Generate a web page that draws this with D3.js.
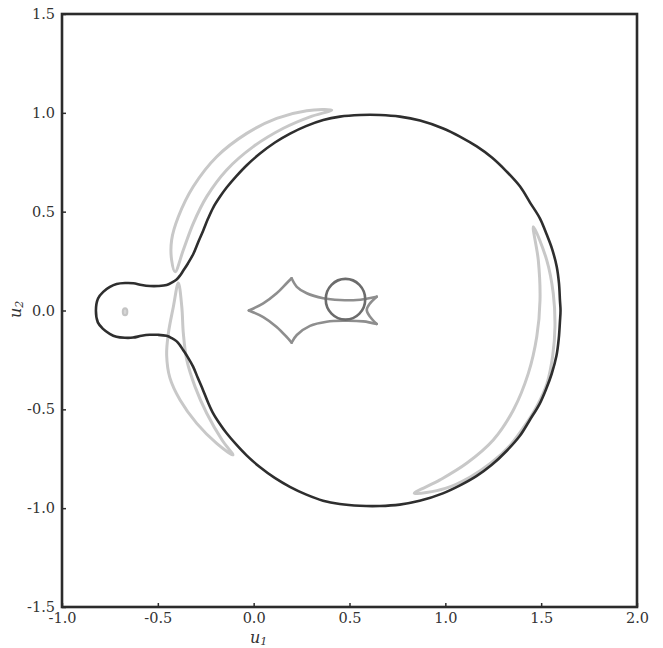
<!DOCTYPE html>
<html>
<head>
<meta charset="utf-8">
<script src="https://cdn.jsdelivr.net/npm/d3@7"></script>
<style>
  body { margin: 0; background: #fff; }
  svg text { font-family: "DejaVu Serif", "Liberation Serif", serif; fill: #333; }
</style>
</head>
<body>
<svg id="chart" width="663" height="648"></svg>
<script>
// axis ticks
const xTicks = [-1.0, -0.5, 0.0, 0.5, 1.0, 1.5, 2.0];
const xTickLabels = ['-1.0', '-0.5', '0.0', '0.5', '1.0', '1.5', '2.0'];
const yTicks = [-1.5, -1.0, -0.5, 0.0, 0.5, 1.0, 1.5];
const yTickLabels = ['-1.5', '-1.0', '-0.5', '0.0', '0.5', '1.0', '1.5'];

// critical curve (dark), upper half then lower half
const criticalUpper = [
  [-0.823, 0.000], [-0.812, 0.061], [-0.785, 0.094], [-0.750, 0.119], [-0.715, 0.134],
  [-0.671, 0.139], [-0.628, 0.138], [-0.584, 0.129], [-0.541, 0.124], [-0.499, 0.124],
  [-0.454, 0.129], [-0.426, 0.142], [-0.402, 0.157], [-0.384, 0.177], [-0.367, 0.202],
  [-0.343, 0.238], [-0.315, 0.286], [-0.290, 0.344], [-0.263, 0.405], [-0.238, 0.465],
  [-0.211, 0.521], [-0.176, 0.575], [-0.141, 0.622], [-0.089, 0.681], [-0.036, 0.735],
  [0.033, 0.794], [0.111, 0.850], [0.190, 0.895], [0.273, 0.933], [0.363, 0.964],
  [0.450, 0.981], [0.555, 0.989], [0.659, 0.989], [0.763, 0.981], [0.868, 0.961],
  [0.989, 0.921], [1.076, 0.880], [1.164, 0.830], [1.243, 0.774], [1.320, 0.703],
  [1.390, 0.627], [1.442, 0.546], [1.494, 0.465], [1.529, 0.384], [1.556, 0.314],
  [1.581, 0.223], [1.593, 0.137], [1.598, 0.051]
];
const criticalLower = [
  [1.601, 0.000], [1.598, -0.055], [1.592, -0.140], [1.580, -0.228], [1.555, -0.320],
  [1.528, -0.392], [1.492, -0.472], [1.440, -0.555], [1.388, -0.635], [1.318, -0.712],
  [1.241, -0.782], [1.162, -0.838], [1.074, -0.886], [0.987, -0.925], [0.866, -0.963],
  [0.762, -0.982], [0.658, -0.989], [0.554, -0.988], [0.449, -0.979], [0.362, -0.962],
  [0.272, -0.930], [0.189, -0.892], [0.110, -0.847], [0.032, -0.792], [-0.037, -0.733],
  [-0.090, -0.679], [-0.142, -0.620], [-0.177, -0.573], [-0.212, -0.519], [-0.239, -0.463],
  [-0.264, -0.403], [-0.291, -0.342], [-0.316, -0.284], [-0.344, -0.236], [-0.368, -0.200],
  [-0.385, -0.175], [-0.403, -0.155], [-0.427, -0.140], [-0.455, -0.128], [-0.500, -0.123],
  [-0.542, -0.123], [-0.585, -0.128], [-0.629, -0.137], [-0.672, -0.138], [-0.716, -0.133],
  [-0.751, -0.118], [-0.786, -0.093], [-0.813, -0.060]
];

// caustic, one array per fold between cusps
const causticFolds = [
  [[-0.025, 0.000], [0.050, 0.036], [0.120, 0.087], [0.172, 0.138], [0.198, 0.163]],
  [[0.198, 0.163], [0.225, 0.120], [0.277, 0.087], [0.363, 0.062], [0.450, 0.053], [0.538, 0.053], [0.642, 0.070]],
  [[0.642, 0.070], [0.607, 0.036], [0.590, 0.003], [0.607, -0.031], [0.642, -0.068]],
  [[0.642, -0.068], [0.572, -0.055], [0.468, -0.052], [0.381, -0.057], [0.294, -0.078], [0.225, -0.124], [0.198, -0.163]],
  [[0.198, -0.163], [0.172, -0.134], [0.120, -0.083], [0.050, -0.033], [-0.025, 0.000]]
];

// source: centre and radius
const sourceCentre = [0.479, 0.057];
const sourceRadius = 0.103;

// images of the source (light grey)
const imageUpperLeft = [
  [0.407, 1.014], [0.277, 1.011], [0.120, 0.972], [-0.036, 0.896], [-0.193, 0.778],
  [-0.315, 0.627], [-0.393, 0.474], [-0.428, 0.357], [-0.428, 0.255], [-0.410, 0.196],
  [-0.367, 0.306], [-0.315, 0.441], [-0.245, 0.576], [-0.141, 0.711], [-0.002, 0.829],
  [0.155, 0.922], [0.294, 0.980]
];
const imageLowerLeft = [
  [-0.393, 0.139], [-0.419, 0.019], [-0.445, -0.115], [-0.454, -0.225], [-0.437, -0.341],
  [-0.384, -0.453], [-0.297, -0.571], [-0.193, -0.672], [-0.108, -0.731], [-0.165, -0.655],
  [-0.245, -0.520], [-0.306, -0.385], [-0.349, -0.250], [-0.367, -0.115], [-0.375, 0.019]
];
const imageRight = [
  [1.459, 0.424], [1.529, 0.255], [1.563, 0.087], [1.572, -0.082], [1.560, -0.230],
  [1.530, -0.370], [1.480, -0.480], [1.420, -0.575], [1.340, -0.680], [1.240, -0.770],
  [1.130, -0.842], [1.000, -0.900], [0.838, -0.925], [0.972, -0.857], [1.111, -0.773],
  [1.250, -0.655], [1.355, -0.503], [1.433, -0.318], [1.477, -0.133], [1.494, 0.053],
  [1.485, 0.255]
];
const imageSmall = { centre: [-0.671, -0.006], rx: 0.012, ry: 0.018 };

const svg = d3.select('#chart');
const plotLeft = 62, plotRight = 637, plotTop = 14, plotBottom = 607;

const x = d3.scaleLinear().domain([-1, 2]).range([plotLeft, plotRight]);
const y = d3.scaleLinear().domain([-1.5, 1.5]).range([plotBottom, plotTop]);

const closedLine = d3.line()
  .x(d => x(d[0]))
  .y(d => y(d[1]))
  .curve(d3.curveCatmullRomClosed.alpha(0.5));
const openLine = d3.line()
  .x(d => x(d[0]))
  .y(d => y(d[1]))
  .curve(d3.curveCatmullRom.alpha(0.5));

// light grey images
[imageUpperLeft, imageLowerLeft, imageRight].forEach(pts => {
  svg.append('path')
    .attr('d', closedLine(pts))
    .attr('fill', 'none')
    .attr('stroke', '#c8c8c8')
    .attr('stroke-width', 3)
    .attr('stroke-linejoin', 'round');
});
svg.append('ellipse')
  .attr('cx', x(imageSmall.centre[0]))
  .attr('cy', y(imageSmall.centre[1]))
  .attr('rx', x(imageSmall.rx) - x(0))
  .attr('ry', y(0) - y(imageSmall.ry))
  .attr('fill', '#d6d6d6')
  .attr('stroke', '#c4c4c4')
  .attr('stroke-width', 2);

// critical curve
svg.append('path')
  .attr('d', closedLine(criticalUpper.concat(criticalLower)))
  .attr('fill', 'none')
  .attr('stroke', '#2e2e2e')
  .attr('stroke-width', 2.6);

// caustic
causticFolds.forEach(fold => {
  svg.append('path')
    .attr('d', openLine(fold))
    .attr('fill', 'none')
    .attr('stroke', '#8e8e8e')
    .attr('stroke-width', 2.6)
    .attr('stroke-linecap', 'round');
});

// source circle
svg.append('ellipse')
  .attr('cx', x(sourceCentre[0]))
  .attr('cy', y(sourceCentre[1]))
  .attr('rx', x(sourceRadius) - x(0))
  .attr('ry', y(0) - y(sourceRadius))
  .attr('fill', 'none')
  .attr('stroke', '#6c6c6c')
  .attr('stroke-width', 2.6);

// axes (ticks point inwards, only bottom and left)
const xAxis = svg.append('g')
  .attr('transform', `translate(0,${plotBottom})`)
  .call(d3.axisBottom(x).tickValues(xTicks).tickFormat((d, i) => xTickLabels[i]).tickSize(-4).tickPadding(6));
const yAxis = svg.append('g')
  .attr('transform', `translate(${plotLeft},0)`)
  .call(d3.axisLeft(y).tickValues(yTicks).tickFormat((d, i) => yTickLabels[i]).tickSize(-4).tickPadding(7));

[xAxis, yAxis].forEach(g => {
  g.select('.domain').remove();
  g.selectAll('.tick line').attr('stroke', '#2e2e2e').attr('stroke-width', 1.5);
  g.selectAll('.tick text').style('font-size', '14.5px').attr('fill', '#333');
});

// frame
svg.append('rect')
  .attr('x', plotLeft)
  .attr('y', plotTop)
  .attr('width', plotRight - plotLeft)
  .attr('height', plotBottom - plotTop)
  .attr('fill', 'none')
  .attr('stroke', '#2b2b2b')
  .attr('stroke-width', 2.6);

// axis titles
const xTitle = svg.append('text')
  .attr('x', 250)
  .attr('y', 643)
  .style('font-size', '16px')
  .style('font-style', 'italic');
xTitle.append('tspan').text('u');
xTitle.append('tspan').attr('dy', 2).style('font-size', '11px').text('1');

const yTitle = svg.append('text')
  .attr('transform', 'translate(21,318) rotate(-90)')
  .style('font-size', '16px')
  .style('font-style', 'italic');
yTitle.append('tspan').text('u');
yTitle.append('tspan').attr('dy', 2).style('font-size', '11px').text('2');
</script>
</body>
</html>
